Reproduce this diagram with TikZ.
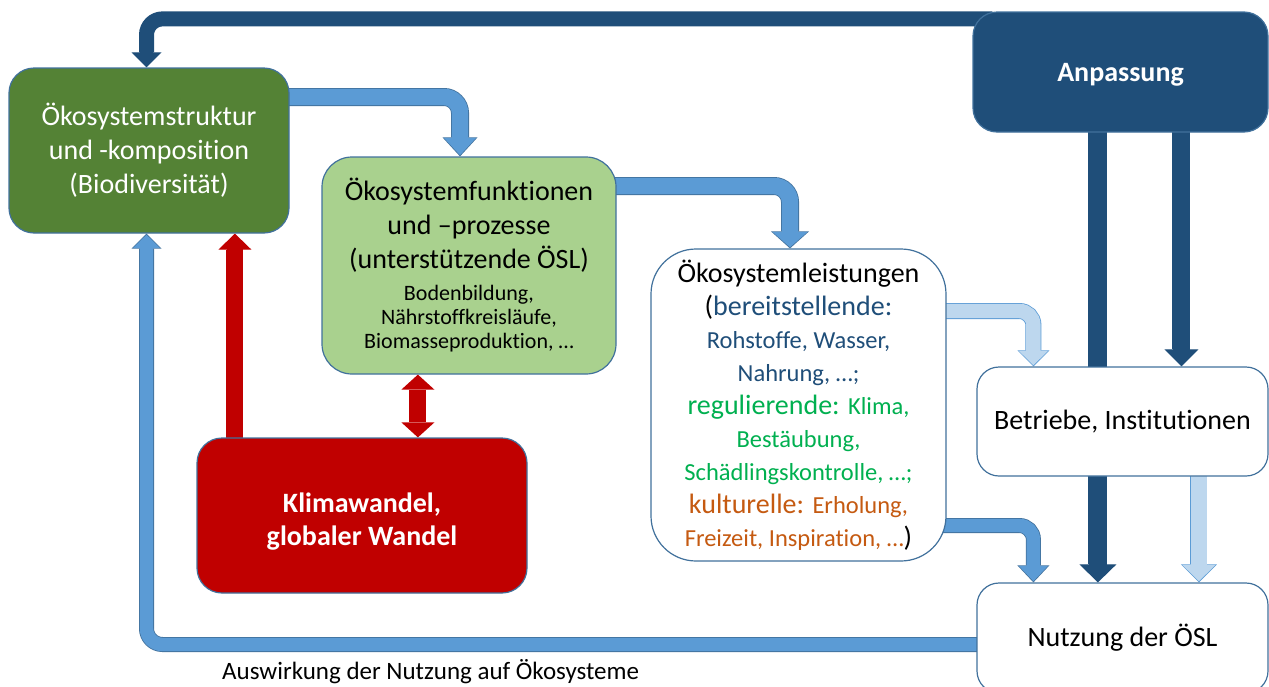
\documentclass[tikz,border=0pt]{standalone}
\usepackage{fontspec}
\setmainfont{Carlito}[Ligatures=NoCommon]
\usetikzlibrary{arrows.meta}
\definecolor{dgreen}{HTML}{548235}
\definecolor{lgreen}{HTML}{A9D18E}
\definecolor{dred}{HTML}{C00000}
\definecolor{dblue}{HTML}{1F4E79}
\definecolor{mblue}{HTML}{5B9BD5}
\definecolor{lblue}{HTML}{BDD7EE}
\definecolor{bord}{HTML}{41719C}
\definecolor{tblue}{HTML}{1F4E79}
\definecolor{tgreen}{HTML}{00B050}
\definecolor{torange}{HTML}{C55A11}
\pgfdeclarelayer{bg}
\pgfsetlayers{bg,main}
% block arrow: [path opts]{fill}{border}{shaft}{head width}{head length}{path}
\newcommand\barrow[7][]{%
  \pgfmathsetmacro\bwi{#4-1.6}\pgfmathsetmacro\bWi{#5-2.6}\pgfmathsetmacro\bLi{#6-1.6}%
  \draw[#1, draw=#3, line width=#4pt, -{Triangle[width=#5pt,length=#6pt,line width=0pt]}] #7;
  \draw[#1, draw=#2, line width=\bwi pt, shorten >=1.2pt, -{Triangle[width=\bWi pt,length=\bLi pt,line width=0pt]}] #7;
}
\newcommand\smf{\fontsize{24.5}{33}\selectfont}
\newcommand\smb{\fontsize{22}{24}\selectfont}
\tikzset{
  box/.style={draw=bord, line width=1.2pt, align=center, inner sep=0pt},
}
\begin{document}
\begin{tikzpicture}[x=1pt,y=-1pt]
\useasboundingbox (0,0) rectangle (1269,686);
\clip (0,0) rectangle (1269,686);

\node[box, fill=dgreen, text=white, rounded corners=25pt, minimum width=280pt, minimum height=165pt,
      font=\fontsize{28}{34}\selectfont] (struct) at (149,150.5)
  {Ökosystemstruktur\\und -komposition\\(Biodiversität)};

\node[box, fill=lgreen, rounded corners=30pt, minimum width=294pt, minimum height=217pt,
      font=\fontsize{28}{34}\selectfont] (func) at (469,265.5)
  {Ökosystemfunktionen\\und –prozesse\\(unterstützende ÖSL)\\[-2pt]{\smb Bodenbildung,}\\[-10pt]{\smb Nährstoffkreisläufe,}\\[-10pt]{\smb Biomasseproduktion, …}};

\node[box, fill=white, rounded corners=45pt, minimum width=295pt, minimum height=312pt,
      font=\fontsize{28}{33}\selectfont] (serv) at (798.5,405)
  {Ökosystemleistungen\\
   (\textcolor{tblue}{bereitstellende:}\\
   {\smf\color{tblue}Rohstoffe, Wasser,}\\
   {\smf\color{tblue}Nahrung, …;}\\
   \textcolor{tgreen}{regulierende: {\smf Klima,}}\\
   {\smf\color{tgreen}Bestäubung,}\\
   {\smf\color{tgreen}Schädlingskontrolle, …;}\\
   \textcolor{torange}{kulturelle: {\smf Erholung,}}\\
   {\smf\color{torange}Freizeit, Inspiration, …})};

\node[box, fill=dred, text=white, rounded corners=25pt, minimum width=330pt, minimum height=155pt,
      font=\fontsize{28}{33}\selectfont\bfseries] (klima) at (362,515.5)
  {\rule{0pt}{31pt}Klimawandel,\\globaler Wandel};

\node[box, fill=dblue, text=white, rounded corners=24pt, minimum width=295pt, minimum height=120pt,
      font=\fontsize{28}{34}\selectfont\bfseries, text depth=0pt] (anp) at (1120.5,72) {Anpassung};

\node[box, fill=white, rounded corners=22pt, minimum width=291pt, minimum height=109pt,
      font=\fontsize{28}{34}\selectfont] (betr) at (1122.5,421.5) {Betriebe, Institutionen};

\node[box, fill=white, rounded corners=22pt, minimum width=291pt, minimum height=110pt,
      font=\fontsize{28}{34}\selectfont] (nutz) at (1122.5,638) {Nutzung der ÖSL};

\node[anchor=base west, inner sep=0pt, font=\fontsize{25}{30}\selectfont] (lbl) at (222,679)
  {Auswirkung der Nutzung auf Ökosysteme};

\begin{pgfonlayer}{bg}
  % Anpassung -> Oekosystemstruktur
  \barrow[rounded corners=16pt]{dblue}{dblue}{15}{30}{15}
    {([xshift=20pt,yshift=-7.5pt]anp.north west) -| ([xshift=-2.5pt]struct.north)};
  % Struktur -> Funktionen
  \barrow[rounded corners=16pt]{mblue}{bord}{18}{35}{19}
    {([xshift=-5pt,yshift=53.5pt]struct.east) -| ([xshift=-9pt]func.north)};
  % Funktionen -> Leistungen
  \barrow[rounded corners=16pt]{mblue}{bord}{18}{38}{17}
    {([xshift=-5pt,yshift=79.5pt]func.east) -| ([xshift=-8.5pt]serv.north)};
  % Leistungen -> Betriebe
  \barrow[rounded corners=14pt]{lblue}{mblue}{16}{32}{16}
    {([xshift=-5pt,yshift=94pt]serv.east) -| ([xshift=57pt]betr.north west)};
  % Leistungen -> Nutzung
  \barrow[rounded corners=14pt]{mblue}{bord}{15}{32}{17}
    {([xshift=-5pt,yshift=-120.5pt]serv.east) -| ([xshift=57pt]nutz.north west)};
  % Anpassung -> Nutzung
  \barrow{dblue}{dblue}{19}{37}{18}
    {([xshift=125.5pt,yshift=5pt]anp.south west) -- ([xshift=121.5pt]nutz.north west)};
  % Anpassung -> Betriebe
  \barrow{dblue}{dblue}{18}{34}{17}
    {([xshift=209pt,yshift=5pt]anp.south west) -- ([xshift=205pt]betr.north west)};
  % Betriebe -> Nutzung
  \barrow{lblue}{mblue}{17}{36}{18}
    {([xshift=222.5pt,yshift=5pt]betr.south west) -- ([xshift=222.5pt]nutz.north west)};
  % Nutzung -> Struktur (Auswirkung)
  \barrow[rounded corners=16pt]{mblue}{bord}{15}{30}{15}
    {([xshift=5pt,yshift=-6.5pt]nutz.west) -| ([xshift=-2.5pt]struct.south)};
  % Klimawandel -> Struktur
  \barrow{dred}{dred}{17}{33}{16}
    {([xshift=38.5pt,yshift=-5pt]klima.north west) -- ([xshift=226.5pt]struct.south west)};
  % Funktionen <-> Klimawandel
  \draw[draw=dred, line width=17pt,
        {Triangle[width=33pt,length=15pt,line width=0pt]}-{Triangle[width=33pt,length=15pt,line width=0pt]}]
    ([xshift=96.5pt]func.south west) -- ([xshift=221.5pt]klima.north west);
\end{pgfonlayer}
\end{tikzpicture}
\end{document}
